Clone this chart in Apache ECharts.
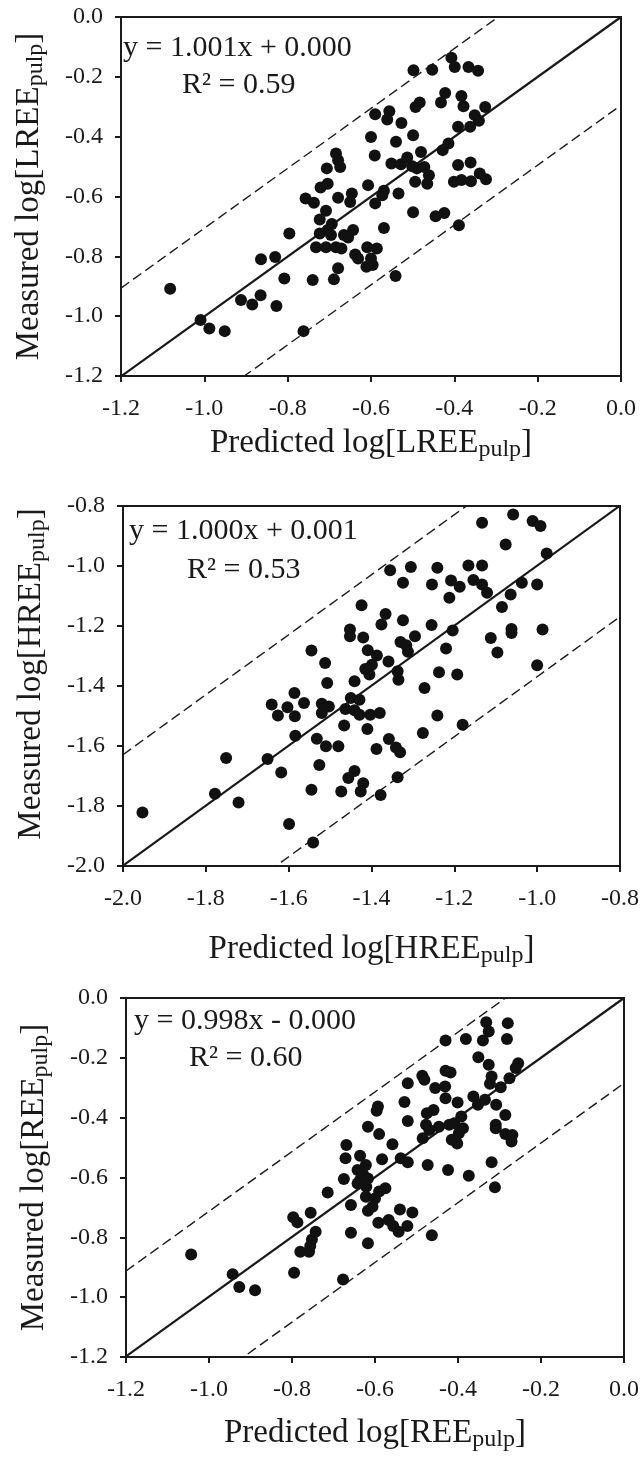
<!DOCTYPE html>
<html><head><meta charset="utf-8">
<script src="https://cdn.jsdelivr.net/npm/echarts@6/dist/echarts.min.js"></script>
<style>html,body{margin:0;padding:0;background:#fff}#c{width:642px;height:1458px}</style>
</head><body><div id="c"></div>
<script>
// ---- Panel 1: LREE ----
const lreePred = [-0.407,-0.399,-0.498,-0.453,-0.366,-0.343,-0.422,-0.432,-0.483,-0.493,-0.383,-0.378,-0.326,-0.590,-0.556,-0.561,-0.527,-0.351,-0.341,-0.391,-0.362,-0.499,-0.600,-0.540,-0.414,-0.428,-0.480,-0.684,-0.591,-0.679,-0.674,-0.706,-0.551,-0.528,-0.513,-0.501,-0.490,-0.472,-0.461,-0.465,-0.494,-0.391,-0.361,-0.401,-0.383,-0.360,-0.339,-0.324,-0.721,-0.704,-0.607,-0.569,-0.573,-0.534,-0.757,-0.737,-0.679,-0.646,-0.650,-0.590,-0.708,-0.723,-0.499,-0.445,-0.424,-0.389,-0.569,-0.694,-0.704,-0.723,-0.696,-0.665,-0.643,-0.655,-0.796,-0.732,-0.708,-0.684,-0.671,-0.638,-0.631,-0.609,-0.586,-0.600,-0.596,-0.611,-0.864,-0.830,-0.679,-0.808,-0.740,-0.689,-0.541,-1.082,-0.912,-0.885,-0.865,-0.827,-1.009,-0.988,-0.951,-0.762];
const lreeMeas = [-0.136,-0.167,-0.178,-0.176,-0.167,-0.180,-0.254,-0.286,-0.286,-0.301,-0.264,-0.298,-0.301,-0.325,-0.315,-0.343,-0.354,-0.328,-0.347,-0.367,-0.367,-0.395,-0.401,-0.417,-0.423,-0.445,-0.451,-0.456,-0.463,-0.479,-0.501,-0.506,-0.490,-0.492,-0.470,-0.499,-0.506,-0.501,-0.529,-0.557,-0.551,-0.495,-0.486,-0.551,-0.545,-0.549,-0.523,-0.542,-0.570,-0.557,-0.562,-0.581,-0.596,-0.590,-0.607,-0.621,-0.604,-0.590,-0.618,-0.623,-0.648,-0.677,-0.653,-0.666,-0.655,-0.696,-0.705,-0.692,-0.712,-0.724,-0.729,-0.729,-0.712,-0.737,-0.724,-0.770,-0.770,-0.770,-0.774,-0.794,-0.807,-0.770,-0.774,-0.807,-0.829,-0.835,-0.810,-0.802,-0.840,-0.874,-0.879,-0.877,-0.866,-0.908,-0.946,-0.961,-0.930,-0.966,-1.013,-1.041,-1.050,-1.050];
// ---- Panel 2: HREE ----
const hreePred = [-1.133,-1.058,-1.011,-0.992,-1.076,-0.977,-1.355,-1.305,-1.241,-1.166,-1.133,-1.324,-1.254,-1.208,-1.187,-1.154,-1.133,-1.121,-1.212,-1.064,-1.037,-1.000,-1.424,-1.085,-1.366,-1.376,-1.324,-1.255,-1.204,-1.062,-1.062,-0.987,-1.452,-1.452,-1.420,-1.295,-1.330,-1.316,-1.312,-1.112,-1.096,-1.220,-1.545,-1.512,-1.409,-1.387,-1.359,-1.399,-1.415,-1.405,-1.337,-1.335,-1.237,-1.193,-1.000,-1.507,-1.441,-1.272,-1.586,-1.641,-1.603,-1.563,-1.626,-1.585,-1.520,-1.503,-1.520,-1.450,-1.429,-1.463,-1.441,-1.429,-1.403,-1.380,-1.241,-1.466,-1.410,-1.584,-1.532,-1.510,-1.480,-1.388,-1.358,-1.341,-1.331,-1.276,-1.180,-1.751,-1.651,-1.618,-1.526,-1.441,-1.456,-1.420,-1.426,-1.473,-1.545,-1.378,-1.337,-1.778,-1.721,-1.953,-1.599,-1.541];
const hreeMeas = [-0.856,-0.828,-0.850,-0.867,-0.928,-0.958,-1.014,-1.003,-1.006,-0.998,-0.998,-1.056,-1.062,-1.048,-1.069,-1.047,-1.062,-1.089,-1.106,-1.095,-1.056,-1.062,-1.131,-1.137,-1.160,-1.195,-1.181,-1.197,-1.215,-1.210,-1.223,-1.212,-1.212,-1.234,-1.238,-1.234,-1.253,-1.264,-1.286,-1.240,-1.288,-1.275,-1.282,-1.323,-1.281,-1.298,-1.318,-1.329,-1.343,-1.362,-1.351,-1.379,-1.354,-1.362,-1.331,-1.390,-1.384,-1.407,-1.423,-1.462,-1.471,-1.457,-1.498,-1.501,-1.459,-1.468,-1.490,-1.440,-1.446,-1.477,-1.481,-1.496,-1.496,-1.490,-1.498,-1.532,-1.543,-1.566,-1.576,-1.601,-1.601,-1.610,-1.577,-1.605,-1.621,-1.557,-1.529,-1.640,-1.643,-1.688,-1.663,-1.683,-1.707,-1.724,-1.752,-1.752,-1.746,-1.763,-1.704,-1.759,-1.788,-1.822,-1.860,-1.922];
// ---- Panel 3: REE ----
const reePred = [-0.332,-0.280,-0.326,-0.430,-0.381,-0.340,-0.282,-0.351,-0.326,-0.255,-0.261,-0.430,-0.418,-0.486,-0.481,-0.319,-0.276,-0.323,-0.297,-0.521,-0.455,-0.431,-0.430,-0.363,-0.352,-0.335,-0.401,-0.529,-0.308,-0.593,-0.596,-0.459,-0.475,-0.392,-0.286,-0.521,-0.409,-0.477,-0.446,-0.421,-0.388,-0.309,-0.309,-0.617,-0.590,-0.469,-0.398,-0.286,-0.269,-0.271,-0.485,-0.415,-0.402,-0.558,-0.669,-0.671,-0.636,-0.622,-0.583,-0.538,-0.521,-0.319,-0.473,-0.424,-0.642,-0.629,-0.374,-0.675,-0.636,-0.617,-0.642,-0.621,-0.575,-0.311,-0.714,-0.590,-0.622,-0.600,-0.606,-0.658,-0.617,-0.540,-0.510,-0.755,-0.797,-0.787,-0.592,-0.567,-0.556,-0.543,-0.522,-0.743,-0.658,-0.463,-0.752,-0.756,-0.780,-0.759,-0.617,-1.043,-0.795,-0.943,-0.927,-0.889,-0.677];
const reeMeas = [-0.081,-0.084,-0.112,-0.142,-0.137,-0.142,-0.137,-0.198,-0.223,-0.218,-0.234,-0.243,-0.249,-0.260,-0.273,-0.262,-0.268,-0.287,-0.298,-0.285,-0.301,-0.296,-0.335,-0.329,-0.357,-0.340,-0.349,-0.348,-0.357,-0.363,-0.377,-0.374,-0.385,-0.396,-0.391,-0.411,-0.419,-0.424,-0.430,-0.424,-0.435,-0.424,-0.435,-0.430,-0.455,-0.441,-0.452,-0.455,-0.458,-0.480,-0.469,-0.474,-0.486,-0.489,-0.491,-0.536,-0.527,-0.558,-0.539,-0.536,-0.549,-0.549,-0.558,-0.575,-0.575,-0.588,-0.594,-0.605,-0.608,-0.603,-0.620,-0.631,-0.636,-0.633,-0.650,-0.647,-0.664,-0.670,-0.698,-0.692,-0.711,-0.707,-0.717,-0.718,-0.733,-0.750,-0.751,-0.742,-0.762,-0.781,-0.762,-0.781,-0.785,-0.793,-0.807,-0.829,-0.848,-0.848,-0.820,-0.857,-0.918,-0.923,-0.966,-0.977,-0.941];

// axis ranges and ticks
const lreeRange = [-1.2, 0.0];
const hreeRange = [-2.0, -0.8];
const reeRange = [-1.2, 0.0];
const tickStep = 0.2;
// regression fit [slope, intercept] and half-width of dashed band
const lreeFit = [1.001, 0.000], lreeBand = 0.295;
const hreeFit = [1.000, 0.001], hreeBand = 0.37;
const reeFit = [0.998, -0.000], reeBand = 0.285;
const eqTexts = [
  ['y = 1.001x + 0.000', '0.59'],
  ['y = 1.000x + 0.001', '0.53'],
  ['y = 0.998x - 0.000', '0.60']
];
const names = ['LREE', 'HREE', 'REE'];

const FONT = "'Liberation Serif','Times New Roman',serif";
const INK = '#1a1a1a';
const grids = [
  {left: 121, top: 17, width: 500, height: 359},
  {left: 123, top: 506, width: 499, height: 360},
  {left: 126, top: 998, width: 501, height: 359}
];
const xNameGaps = [47, 63, 56];
const yNamePad = [[0, 0, 0, 0], [0, 0, 0, 24], [0, 0, 0, 0]];
const ranges = [lreeRange, hreeRange, reeRange];
const fits = [lreeFit, hreeFit, reeFit];
const bands = [lreeBand, hreeBand, reeBand];
const preds = [lreePred, hreePred, reePred];
const meas = [lreeMeas, hreeMeas, reeMeas];

function richName(prefix, el) {
  return '{a|' + prefix + ' log[' + el + '}{s|pulp}{a|]}';
}
const nameRich = {
  a: {fontFamily: FONT, fontSize: 33, color: INK, lineHeight: 40},
  s: {fontFamily: FONT, fontSize: 24, color: INK, lineHeight: 40, padding: [14, 0, 0, 0]}
};

function axisCommon(range, margin) {
  return {
    type: 'value', min: range[0], max: range[1], interval: tickStep,
    axisLine: {show: true, onZero: false, lineStyle: {color: INK, width: 2}},
    axisTick: {show: true, inside: false, length: 6, lineStyle: {color: INK, width: 2}},
    splitLine: {show: false},
    axisLabel: {fontFamily: FONT, fontSize: 24, color: INK, margin: margin, formatter: v => v.toFixed(1)},
    nameLocation: 'middle'
  };
}

const xAxes = [], yAxes = [], series = [], graphics = [];
for (let i = 0; i < 3; i++) {
  const r = ranges[i];
  xAxes.push(Object.assign(axisCommon(r, 21), {gridIndex: i, name: richName('Predicted', names[i]), nameGap: xNameGaps[i],
    nameTextStyle: {rich: nameRich}}));
  yAxes.push(Object.assign(axisCommon(r, 18), {gridIndex: i, name: richName('Measured', names[i]), nameGap: 72,
    nameTextStyle: {rich: nameRich, padding: yNamePad[i]}}));
  const pts = preds[i].map((x, k) => [x, meas[i][k]]);
  series.push({type: 'scatter', xAxisIndex: i, yAxisIndex: i, data: pts, symbolSize: 12,
    itemStyle: {color: '#111', opacity: 1}, z: 3});
  const f = fits[i];
  const line = r.map(x => [x, f[0] * x + f[1]]);
  series.push({type: 'line', xAxisIndex: i, yAxisIndex: i, data: line, symbol: 'none', clip: true,
    lineStyle: {color: INK, width: 2.2}, z: 2, silent: true});
  [bands[i], -bands[i]].forEach(b => {
    const d = r.map(x => [x, f[0] * x + f[1] + b]);
    series.push({type: 'line', xAxisIndex: i, yAxisIndex: i, data: d, symbol: 'none', clip: true,
      lineStyle: {color: INK, width: 1.4, type: [10, 5]}, z: 2, silent: true});
  });
}

const eqPos = [[123, 50, 182, 87], [129, 533, 187, 572], [134, 1023, 189, 1060]];
for (let i = 0; i < 3; i++) {
  const p = eqPos[i];
  graphics.push({type: 'text', left: p[0], top: p[1] - 17, style: {text: eqTexts[i][0], font: '30px ' + FONT, fill: INK}});
  graphics.push({type: 'text', left: p[2], top: p[3] - 17, style: {text: 'R² = ' + eqTexts[i][1], font: '30px ' + FONT, fill: INK}});
}

const chart = echarts.init(document.getElementById('c'), null, {renderer: 'canvas'});
chart.setOption({
  backgroundColor: '#fff',
  animation: false,
  grid: grids.map(g => Object.assign({show: true, borderColor: INK, borderWidth: 2, backgroundColor: 'transparent', containLabel: false}, g)),
  xAxis: xAxes,
  yAxis: yAxes,
  series: series,
  graphic: graphics
});
</script>
</body></html>
